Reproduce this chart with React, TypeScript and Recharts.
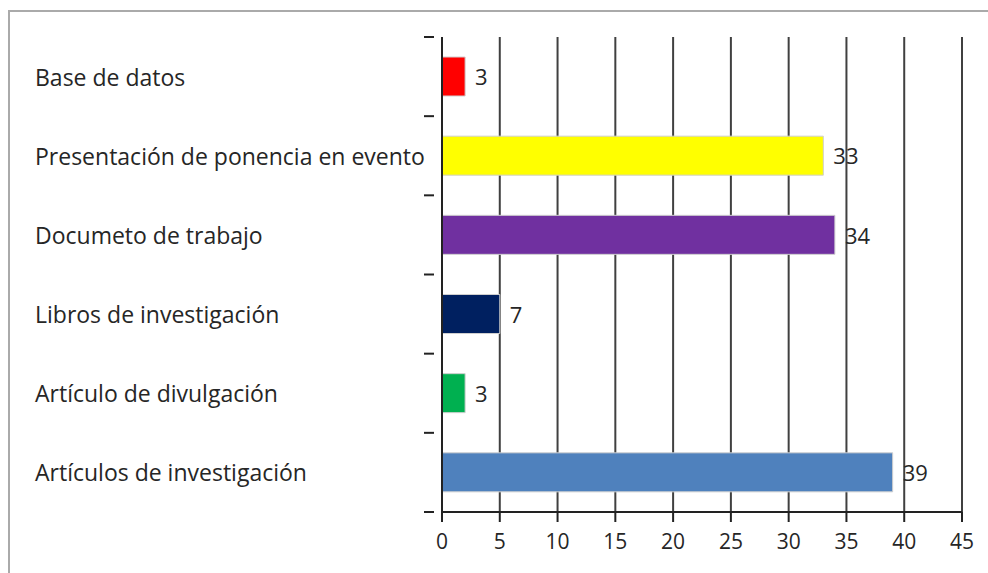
import { BarChart, Bar, XAxis, YAxis, CartesianGrid, Cell, LabelList } from 'recharts'

const categories = [
  'Base de datos',
  'Presentación de ponencia en evento',
  'Documeto de trabajo',
  'Libros de investigación',
  'Artículo de divulgación',
  'Artículos de investigación',
]
// bar lengths as drawn
const barValues = [2, 33, 34, 5, 2, 39]
// labels as printed next to the bars
const barLabels = ['3', '33', '34', '7', '3', '39']
const barColors = ['#FF0000', '#FFFF00', '#7030A0', '#002060', '#00B050', '#4F81BD']
const xTicks = [0, 5, 10, 15, 20, 25, 30, 35, 40, 45]

const W = 988
const H = 573
const TOP = 37
const BOTTOM = 61
const FONT = '"Open Sans", sans-serif'
const TEXT = '#262626'

const data = categories.map((name, i) => ({
  name,
  value: barValues[i],
  label: barLabels[i],
  color: barColors[i],
}))

const band = (H - TOP - BOTTOM) / categories.length

function CategoryTick(props: any) {
  const { x, y, payload, index } = props
  return (
    <g>
      <line x1={x - 10} x2={x} y1={y - band / 2} y2={y - band / 2} stroke="#222" strokeWidth={2} />
      {index === categories.length - 1 && (
        <line x1={x - 10} x2={x} y1={y + band / 2} y2={y + band / 2} stroke="#222" strokeWidth={2} />
      )}
      <text x={35} y={y + 1} dy="0.35em" textAnchor="start" fontSize={23} fill={TEXT} fontFamily={FONT}>
        {payload.value}
      </text>
    </g>
  )
}

function BarLabel(props: any) {
  const { x, y, width, height, index } = props
  return (
    <text
      x={x + width + 10}
      y={y + height / 2 + 1}
      dy="0.35em"
      fontSize={22}
      fill={TEXT}
      fontFamily={FONT}
    >
      {barLabels[index]}
    </text>
  )
}

export default function App() {
  return (
    <div style={{ position: 'absolute', left: 0, top: 0, width: W, height: H, background: '#fff' }}>
      <div
        style={{
          position: 'absolute',
          left: 8,
          top: 10,
          right: 0,
          bottom: 0,
          borderTop: '2px solid #aaa',
          borderLeft: '2px solid #aaa',
        }}
      />
      <div style={{ position: 'absolute', left: 0, top: 0 }}>
        <BarChart
          width={W}
          height={H}
          data={data}
          layout="vertical"
          margin={{ top: TOP, right: 26, bottom: 0, left: 0 }}
          barCategoryGap={0}
        >
          <CartesianGrid horizontal={false} stroke="#404040" strokeWidth={2} />
          <XAxis
            type="number"
            domain={[0, 45]}
            ticks={xTicks}
            height={BOTTOM}
            axisLine={{ stroke: '#222', strokeWidth: 2 }}
            tickLine={{ stroke: '#222', strokeWidth: 2 }}
            tickSize={10}
            tick={{ fontSize: 21, fill: TEXT, fontFamily: FONT, dy: 10 }}
            interval={0}
          />
          <YAxis
            type="category"
            dataKey="name"
            width={442}
            axisLine={{ stroke: '#222', strokeWidth: 2 }}
            tickLine={false}
            tick={<CategoryTick />}
            interval={0}
          />
          <Bar dataKey="value" barSize={39} isAnimationActive={false} stroke="#cfcfcf" strokeWidth={1}>
            {data.map((d, i) => (
              <Cell key={i} fill={d.color} />
            ))}
            <LabelList dataKey="label" content={<BarLabel />} />
          </Bar>
        </BarChart>
      </div>
    </div>
  )
}
